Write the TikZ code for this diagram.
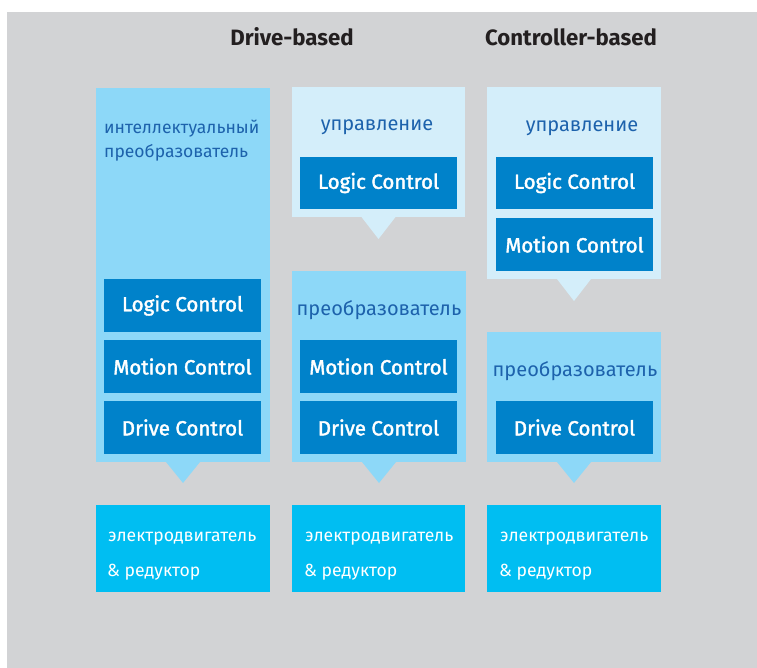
\documentclass[tikz,border=0pt]{standalone}
\usepackage{fontspec}
\setmainfont{Fira Sans}
\newfontfamily\semib{Fira Sans}[BoldFont={Fira Sans},BoldFeatures={FakeBold=1.8}]
\definecolor{bg}{HTML}{D2D3D5}
\definecolor{lblue}{HTML}{8DD8F8}
\definecolor{pale}{HTML}{D4EEFA}
\definecolor{dblue}{HTML}{0082CA}
\definecolor{cyanbox}{HTML}{00BEF2}
\definecolor{tblue}{HTML}{1D62AC}
\definecolor{ttl}{HTML}{231F20}
\tikzset{
  panel/.style={inner sep=0pt,outer sep=0pt,anchor=north west},
  cont/.style={panel,fill=lblue},
  palecont/.style={panel,fill=pale},
  inner/.style={panel,fill=dblue,minimum width=157pt,minimum height=53pt,
     text=white,font={\semib\bfseries\fontsize{20.5}{24}\selectfont}},
  motor/.style={panel,fill=cyanbox,minimum width=174pt,minimum height=87pt},
  motortxt/.style={anchor=west,text=white,inner sep=0pt,font=\fontsize{17.6}{21}\selectfont},
  bluetxt/.style={text=tblue,inner sep=0pt,font=\fontsize{20}{24}\selectfont},
  title/.style={text=ttl,inner sep=0pt,font=\bfseries\fontsize{22.2}{26}\selectfont},
}
\begin{document}
\begin{tikzpicture}[x=1pt,y=-1pt]
\useasboundingbox (0,0) rectangle (757,668);
\fill[white] (0,0) rectangle (757,668);
\fill[bg] (7,12) rectangle (757,668);
% titles
\node[title] (t1) at (292,37) {Drive-based};
\node[title] (t2) at (571,37) {Controller-based};
% column 1
\node[cont,minimum width=174pt,minimum height=374pt] (c1) at (96,88) {};
\fill[lblue] ([xshift=-17pt]c1.south) -- ([xshift=17pt]c1.south) -- ([yshift=-21pt]c1.south) -- cycle;
\node[bluetxt,anchor=west,align=left,font=\fontsize{17.5}{24}\selectfont] (c1t) at (104,141) {интеллектуальный\\преобразователь};
\node[inner] (l1) at (104,279) {Logic Control};
\node[inner] (m1) at (104,340) {Motion Control};
\node[inner] (d1) at (104,401) {Drive Control};
% column 2
\node[palecont,minimum width=173pt,minimum height=130pt] (c2a) at (292,87) {};
\fill[pale] ([xshift=-17pt]c2a.south) -- ([xshift=17pt]c2a.south) -- ([yshift=-22pt]c2a.south) -- cycle;
\node[bluetxt] (c2at) at (377,127) {управление};
\node[inner,minimum height=52pt] (l2) at (300,157) {Logic Control};
\node[cont,minimum width=174pt,minimum height=191pt] (c2b) at (292,271) {};
\fill[lblue] ([xshift=-17pt]c2b.south) -- ([xshift=17pt]c2b.south) -- ([yshift=-21pt]c2b.south) -- cycle;
\node[bluetxt] (c2bt) at (379,310) {преобразователь};
\node[inner] (m2) at (300,340) {Motion Control};
\node[inner] (d2) at (300,401) {Drive Control};
% column 3
\node[palecont,minimum width=174pt,minimum height=192pt] (c3a) at (487,87) {};
\fill[pale] ([xshift=-17pt]c3a.south) -- ([xshift=17pt]c3a.south) -- ([yshift=-22pt]c3a.south) -- cycle;
\node[bluetxt] (c3at) at (582,128) {управление};
\node[inner,minimum height=52pt] (l3) at (496,157) {Logic Control};
\node[inner] (m3) at (496,218) {Motion Control};
\node[cont,minimum width=174pt,minimum height=130pt] (c3b) at (487,332) {};
\fill[lblue] ([xshift=-17pt]c3b.south) -- ([xshift=17pt]c3b.south) -- ([yshift=-21pt]c3b.south) -- cycle;
\node[bluetxt] (c3bt) at (575,371) {преобразователь};
\node[inner] (d3) at (496,401) {Drive Control};
% motors
\node[motor] (b1) at (96,505) {};
\node[motor,minimum width=173pt] (b2) at (292,505) {};
\node[motor] (b3) at (487,505) {};
\node[motortxt] (b1a) at (108,539) {электродвигатель};
\node[motortxt] (b1b) at (107,572) {\& редуктор};
\node[motortxt] (b2a) at (305,539) {электродвигатель};
\node[motortxt] (b2b) at (304,572) {\& редуктор};
\node[motortxt] (b3a) at (500,539) {электродвигатель};
\node[motortxt] (b3b) at (499,572) {\& редуктор};
\end{tikzpicture}
\end{document}
